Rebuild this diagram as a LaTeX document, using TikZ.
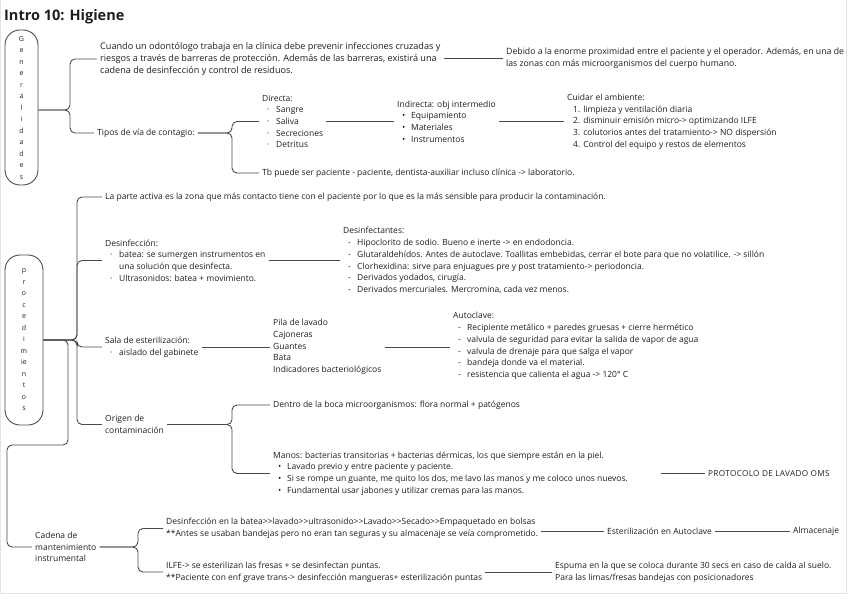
\documentclass[tikz,border=0pt]{standalone}
\usepackage{fontspec}
\setmainfont{Open Sans}
\usetikzlibrary{positioning,calc}
\definecolor{Ink}{HTML}{1E1E1E}
\definecolor{Wire}{HTML}{4A4A4A}
\definecolor{Frame}{HTML}{E4E4E4}

\tikzset{
  txt/.style={anchor=west,font=\fontsize{8.5}{11.7}\selectfont,text=Ink,align=left,inner xsep=3pt,inner ysep=0pt},
  big/.style={font=\fontsize{9.1}{12}\selectfont},
  pill/.style={draw=Wire,line width=0.9pt,rounded corners=15pt,font=\fontsize{7}{11.5}\selectfont,text=Ink,align=center,inner sep=0pt},
  conn/.style={draw=Wire,line width=0.9pt,rounded corners=5pt},
}

\begin{document}
\begin{tikzpicture}[x=1pt,y=-1pt]
  \def\itm#1{\hspace*{5pt}\makebox[9pt][l]{#1}}
  \def\cnt{\hspace*{14pt}}
  \useasboundingbox (0,0) rectangle (848,599);
  \draw[Frame] (0.5,0) -- (0.5,593) -- (846,593) -- (846,0);

  \node[anchor=west,font=\fontsize{14.5}{16}\selectfont\bfseries,text=Ink,inner sep=0pt] (title) at (4,17) {Intro 10: Higiene};

  % Generalidades
  \node[pill,minimum width=33pt,minimum height=155pt] (gen) at (21.5,107.5) {G\\e\\n\\e\\r\\a\\l\\i\\d\\a\\d\\e\\s};
  \coordinate (brG) at (70,110);
  \node[txt,big] (t1) at (97,59) {Cuando un odontólogo trabaja en la clínica debe prevenir infecciones cruzadas y\\riesgos a través de barreras de protección. Además de las barreras, existirá una\\cadena de desinfección y control de residuos.};
  \node[txt,font=\fontsize{8.7}{12}\selectfont] (t2) at (503,58) {Debido a la enorme proximidad entre el paciente y el operador. Además, en una de\\las zonas con más microorganismos del cuerpo humano.};
  \node[txt] (tipos) at (94,133) {Tipos de vía de contagio:};
  \coordinate (brT) at (232,133);
  \node[txt] (dir) at (259,121.5) {Directa:\\\itm{·}Sangre\\\itm{·}Saliva\\\itm{·}Secreciones\\\itm{·}Detritus};
  \node[txt] (ind) at (394,121.5) {Indirecta: obj intermedio\\\itm{•}Equipamiento\\\itm{•}Materiales\\\itm{•}Instrumentos};
  \node[txt] (cuid) at (564,121.5) {Cuidar el ambiente:\\\hspace*{6pt}1. limpieza y ventilación diaria\\\hspace*{6pt}2. disminuir emisión micro-> optimizando ILFE\\\hspace*{6pt}3. colutorios antes del tratamiento-> NO dispersión\\\hspace*{6pt}4. Control del equipo y restos de elementos};
  \node[txt] (tb) at (259,173) {Tb puede ser paciente - paciente, dentista-auxiliar incluso clínica -> laboratorio.};

  \draw[conn] (gen.east |- brG) -- (brG) |- (t1.west);
  \draw[conn] (gen.east |- brG) -- (brG) |- (tipos.west);
  \draw[conn] (t1.east |- t2.west) -- (t2.west);
  \draw[conn] (tipos.east) -- (brT) |- (dir.west);
  \draw[conn] (tipos.east) -- (brT) |- (tb.west);
  \draw[conn] (dir.east) -- (dir.east -| ind.west);
  \draw[conn] (ind.east) -- (ind.east -| cuid.west);

  % Procedimientos
  \node[pill,minimum width=38pt,minimum height=170pt] (proc) at (24,340) {p\\r\\o\\c\\e\\d\\i\\m\\ie\\n\\t\\o\\s};
  \coordinate (brP) at (77,340);
  \node[txt] (act) at (102,197) {La parte activa es la zona que más contacto tiene con el paciente por lo que es la más sensible para producir la contaminación.};
  \node[txt] (desf) at (102,260.5) {Desinfección:\\\itm{·}batea: se sumergen instrumentos en\\\cnt una solución que desinfecta.\\\itm{·}Ultrasonidos: batea + movimiento.};
  \node[txt] (dsft) at (340,260.5) {Desinfectantes:\\\itm{-}Hipoclorito de sodio. Bueno e inerte -> en endodoncia.\\\itm{-}Glutaraldehídos. Antes de autoclave. Toallitas embebidas, cerrar el bote para que no volatilice. -> sillón\\\itm{-}Clorhexidina: sirve para enjuagues pre y post tratamiento-> periodoncia.\\\itm{-}Derivados yodados, cirugía.\\\itm{-}Derivados mercuriales. Mercromina, cada vez menos.};
  \node[txt] (sala) at (102,347) {Sala de esterilización:\\\itm{·}aislado del gabinete};
  \node[txt] (pila) at (270,347) {Pila de lavado\\Cajoneras\\Guantes\\Bata\\Indicadores bacteriológicos};
  \node[txt] (auto) at (450,346) {Autoclave:\\\itm{-}Recipiente metálico + paredes gruesas + cierre hermético\\\itm{-}valvula de seguridad para evitar la salida de vapor de agua\\\itm{-}valvula de drenaje para que salga el vapor\\\itm{-}bandeja donde va el material.\\\itm{-}resistencia que calienta el agua -> 120° C};
  \node[txt] (orig) at (102,424.5) {Origen de\\contaminación};
  \coordinate (brO) at (232,424.5);
  \node[txt] (dentro) at (270,405) {Dentro de la boca microorganismos: flora normal + patógenos};
  \node[txt] (manos) at (270,473.5) {Manos: bacterias transitorias + bacterias dérmicas, los que siempre están en la piel.\\\itm{•}Lavado previo y entre paciente y paciente.\\\itm{•}Si se rompe un guante, me quito los dos, me lavo las manos y me coloco unos nuevos.\\\itm{•}Fundamental usar jabones y utilizar cremas para las manos.};
  \node[txt,font=\fontsize{8.2}{11}\selectfont\addfontfeature{LetterSpace=4}] (prot) at (705,473.5) {PROTOCOLO DE LAVADO OMS};

  \draw[conn] (proc.east) -- (brP) |- (act.west);
  \draw[conn] (proc.east) -- (brP) |- (desf.west);
  \draw[conn] (proc.east) -- (brP) |- (sala.west);
  \draw[conn] (proc.east) -- (brP) |- (orig.west);
  \draw[conn] (desf.east) -- (desf.east -| dsft.west);
  \draw[conn] (sala.east |- pila.west) -- (pila.west);
  \draw[conn] (pila.east) -- (pila.east -| auto.west);
  \draw[conn] (orig.east) -- (brO) |- (dentro.west);
  \draw[conn] (orig.east) -- (brO) |- (manos.west);
  \draw[conn] ([xshift=30pt]manos.east) -- (prot.west);

  % Cadena de mantenimiento
  \node[txt] (cad) at (32,547) {Cadena de\\mantenimiento\\instrumental};
  \coordinate (brC) at (138,547);
  \node[txt] (dsbat) at (163,528.5) {Desinfección en la batea>{}>lavado>{}>ultrasonido>{}>Lavado>{}>Secado>{}>Empaquetado en bolsas\\**Antes se usaban bandejas pero no eran tan seguras y su almacenaje se veía comprometido.};
  \node[txt] (ester) at (604,531) {Esterilización en Autoclave};
  \node[txt] (alm) at (790,531) {Almacenaje};
  \node[txt] (ilfe) at (163,572) {ILFE-> se esterilizan las fresas + se desinfectan puntas.\\**Paciente con enf grave trans-> desinfección mangueras+ esterilización puntas};
  \node[txt] (esp) at (552,572) {Espuma en la que se coloca durante 30 secs en caso de caída al suelo.\\Para las limas/fresas bandejas con posicionadores};

  \draw[conn] (proc.east) -| (68,445) -| (7,500) |- (cad.west);
  \draw[conn] (cad.east) -- (brC) |- (dsbat.west);
  \draw[conn] (cad.east) -- (brC) |- (ilfe.west);
  \draw[conn] (dsbat.east |- ester.west) -- (ester.west);
  \draw[conn] (ester.east) -- (alm.west);
  \draw[conn] (ilfe.east |- esp.west) -- (esp.west);
\end{tikzpicture}
\end{document}
